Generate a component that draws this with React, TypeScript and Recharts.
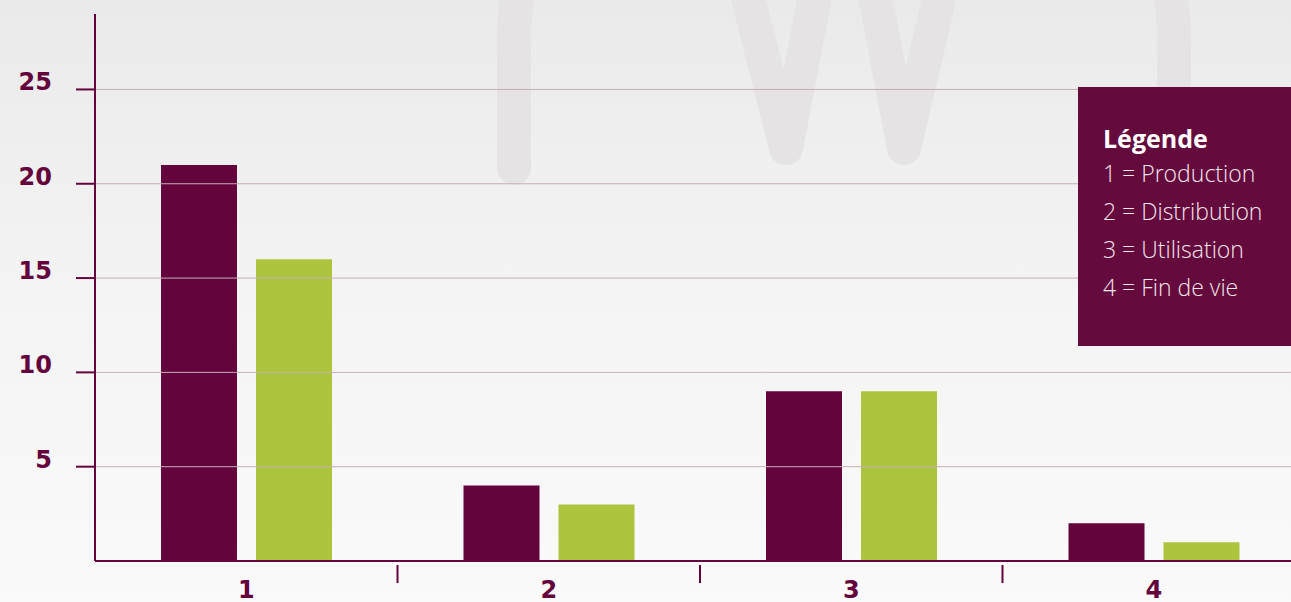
import { BarChart, Bar, XAxis, YAxis, ReferenceLine } from "recharts";

const CATEGORIES = ["1", "2", "3", "4"];
const SERIES_A = [21, 4, 9, 2];
const SERIES_B = [16, 3, 9, 1];
const Y_TICKS = [5, 10, 15, 20, 25];
const LEGEND_TITLE = "Légende";
const LEGEND_ITEMS = ["Production", "Distribution", "Utilisation", "Fin de vie"];

const PURPLE = "#64043c";
const GREEN = "#adc43e";
const GRID = "#c6aeb8";

const data = CATEGORIES.map((c, i) => ({ cat: c, a: SERIES_A[i], b: SERIES_B[i] }));

const YTick = ({ x, y, payload }: any) => (
  <text
    x={x}
    y={y + 1}
    textAnchor="end"
    fill={PURPLE}
    style={{ fontFamily: "DejaVu Sans", fontWeight: 700, fontSize: 24 }}
  >
    {payload.value}
  </text>
);

const XTick = ({ x, y, payload, index }: any) => {
  const edge = x - (payload.offset || 0);
  return (
    <g>
      {index > 0 && (
        <line x1={edge} x2={edge} y1={y - 4} y2={y + 14} stroke={PURPLE} strokeWidth={2} />
      )}
      <text
        x={x}
        y={y + 29}
        textAnchor="middle"
        fill={PURPLE}
        style={{ fontFamily: "DejaVu Sans", fontWeight: 700, fontSize: 24 }}
      >
        {payload.value}
      </text>
    </g>
  );
};

export default function App() {
  return (
    <div
      style={{
        position: "absolute",
        left: 0,
        top: 0,
        width: 1291,
        height: 602,
        overflow: "hidden",
        background: "linear-gradient(to bottom, #ebeaea 0%, #f4f4f4 50%, #fafafa 100%)",
      }}
    >
      {/* faint watermark logo */}
      <svg width={1291} height={602} style={{ position: "absolute", left: 0, top: 0 }}>
        <g fill="none" stroke="#e5e3e4" strokeWidth={34} strokeLinecap="round" strokeLinejoin="round">
          <path d="M514,168 L514,40 Q514,-120 680,-120 L1008,-120 Q1174,-120 1174,40 L1174,250" />
          <path d="M741,-30 L786,148 L820,-30" />
          <path d="M870,-30 L904,148 L946,-30" />
        </g>
      </svg>

      <div style={{ position: "absolute", left: 0, top: 0 }}>
        <BarChart
          width={1310}
          height={602}
          data={data}
          margin={{ top: 14, right: 5, left: 0, bottom: 0 }}
          barGap={19}
        >
          {Y_TICKS.map((v) => (
            <ReferenceLine key={v} y={v} stroke={GRID} strokeWidth={1} />
          ))}
          <XAxis
            dataKey="cat"
            height={41}
            axisLine={{ stroke: PURPLE, strokeWidth: 2 }}
            tickLine={false}
            tick={<XTick />}
            interval={0}
          />
          <YAxis
            width={95}
            domain={[0, 29]}
            ticks={Y_TICKS}
            axisLine={{ stroke: PURPLE, strokeWidth: 2 }}
            tickLine={{ stroke: PURPLE, strokeWidth: 2 }}
            tickSize={19}
            tickMargin={24}
            tick={<YTick />}
          />
          <Bar dataKey="a" fill={PURPLE} barSize={76} isAnimationActive={false} />
          <Bar dataKey="b" fill={GREEN} barSize={76} isAnimationActive={false} />
        </BarChart>
      </div>

      <div
        style={{
          position: "absolute",
          left: 1078,
          top: 87,
          width: 220,
          height: 259,
          background: "#650a3d",
          boxSizing: "border-box",
          padding: "35px 0 0 25px",
          color: "#f3e6ec",
          fontFamily: "'Open Sans'",
        }}
      >
        <div style={{ fontWeight: 700, fontSize: 25, lineHeight: "32px", color: "#ffffff" }}>
          {LEGEND_TITLE}
        </div>
        {LEGEND_ITEMS.map((item, i) => (
          <div key={item} style={{ fontWeight: 300, fontSize: 23, lineHeight: "38px", whiteSpace: "nowrap" }}>
            {i + 1} = {item}
          </div>
        ))}
      </div>
    </div>
  );
}
